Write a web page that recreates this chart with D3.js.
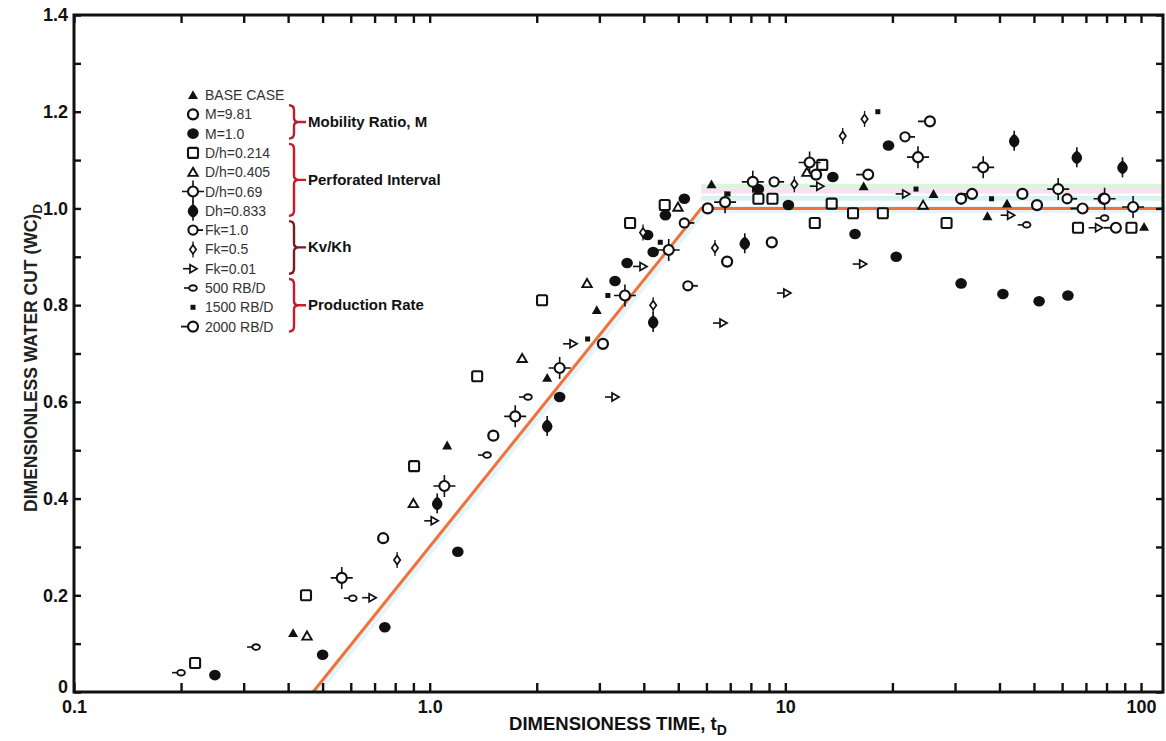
<!DOCTYPE html>
<html>
<head>
<meta charset="utf-8">
<script src="https://cdn.jsdelivr.net/npm/d3@7"></script>
<style>
body { margin: 0; background: #fff; }
svg { display: block; }
</style>
</head>
<body>
<svg id="view" width="1166" height="741"></svg>
<script>
// DATA, each point is [tD, (WC)D]
var BASE_CASE = [[0.413, 0.122], [1.12, 0.51], [2.14, 0.65], [2.95, 0.79], [6.2, 1.05],
    [16.6, 1.046], [26.1, 1.03], [37, 0.984], [42, 1.01], [102, 0.962]];
var M_981 = [[0.74, 0.318], [1.51, 0.53], [3.07, 0.72], [6.05, 1.0], [6.86, 0.89], [9.16, 0.93],
    [12.2, 1.07], [31.2, 1.02], [46.4, 1.03], [51, 1.007], [78.5, 1.02]];
var M_10 = [[0.249, 0.035], [0.5, 0.077], [0.748, 0.134], [1.2, 0.29], [2.32, 0.61], [3.32, 0.85],
    [3.59, 0.887], [4.1, 0.945], [4.25, 0.91], [4.6, 0.986], [5.2, 1.02], [8.4, 1.04], [10.2, 1.007],
    [13.6, 1.065], [15.7, 0.947], [19.5, 1.13], [20.5, 0.9], [31.2, 0.845], [40.9, 0.823],
    [51.7, 0.808], [62.3, 0.82]];
var DH_0214 = [[0.219, 0.06], [0.449, 0.2], [0.904, 0.467], [1.36, 0.653], [2.07, 0.81], [3.66, 0.97],
    [4.58, 1.007], [8.4, 1.02], [9.2, 1.02], [12.1, 0.97], [12.7, 1.09], [13.5, 1.01], [15.5, 0.99],
    [18.8, 0.99], [28.4, 0.97], [66.5, 0.96], [94, 0.96]];
var DH_0405 = [[0.452, 0.116], [0.9, 0.39], [1.82, 0.69], [2.77, 0.845], [4.99, 1.003], [11.5, 1.075],
    [24.4, 1.007]];
var DH_069 = [[0.566, 0.236], [1.1, 0.426], [1.74, 0.57], [2.32, 0.67], [3.54, 0.82], [4.7, 0.914],
    [6.77, 1.013], [8.1, 1.055], [11.7, 1.095], [23.6, 1.106], [36, 1.085], [58.5, 1.04], [79, 1.02],
    [95, 1.003]];
var DH_0833 = [[1.05, 0.39], [2.14, 0.55], [4.25, 0.765], [7.69, 0.928], [44, 1.14], [66, 1.106],
    [88.7, 1.085]];
var FK_10 = [[5.2, 0.97], [5.32, 0.84], [9.3, 1.055], [21.7, 1.148], [62, 1.02]];
var FK_05 = [[0.81, 0.273], [3.98, 0.95], [4.25, 0.8], [6.34, 0.918], [10.6, 1.05], [14.5, 1.15],
    [16.7, 1.185]];
var FK_001 = [[0.689, 0.195], [1.03, 0.354], [2.53, 0.72], [3.32, 0.61], [3.98, 0.88], [6.68, 0.763],
    [10.1, 0.825], [12.5, 1.046], [16.5, 0.885], [21.8, 1.03], [43, 0.986], [76, 0.96]];
var RB_500 = [[0.2, 0.04], [0.325, 0.093], [0.608, 0.194], [1.45, 0.49], [1.89, 0.61], [47.7, 0.966],
    [79, 0.98]];
var RB_1500 = [[2.78, 0.73], [3.17, 0.82], [4.45, 0.93], [6.9, 1.03], [18.2, 1.2], [23.3, 1.04],
    [38, 1.02]];
var RB_2000 = [[17.1, 1.07], [25.5, 1.18], [33.5, 1.03], [68.5, 1.0], [85, 0.96]];

var LEGEND_LABELS = ["BASE CASE", "M=9.81", "M=1.0", "D/h=0.214", "D/h=0.405", "D/h=0.69",
    "Dh=0.833", "Fk=1.0", "Fk=0.5", "Fk=0.01", "500 RB/D", "1500 RB/D", "2000 RB/D"];
var MARKERS = ["triFill", "circOpen", "circFill", "squareOpen", "triOpen", "crossCirc",
    "diamondLine", "cLine", "smallDiamondLine", "triRightLine", "eye", "smallSquare", "circLineLeft"];
var SERIES_DATA = [BASE_CASE, M_981, M_10, DH_0214, DH_0405, DH_069, DH_0833,
    FK_10, FK_05, FK_001, RB_500, RB_1500, RB_2000];

var GROUP_LABELS = ["Mobility Ratio, M", "Perforated Interval", "Kv/Kh", "Production Rate"];
var GROUP_ROWS = [[1, 2], [3, 6], [7, 9], [10, 12]];
var GROUP_COLORS = ["#b42230", "#d01826", "#7a1c22", "#c81c2c"];

// correlation line: rises from tD=0.47 to tD=5.8, then flat
var TREND = [[0.47, 0], [5.8, 1.0], [115, 1.0]];

var X_LABEL_VALUES = [0.1, 1, 10, 100];
var X_LABEL_TEXT = ["0.1", "1.0", "10", "100"];
var Y_LABEL_VALUES = [0, 0.2, 0.4, 0.6, 0.8, 1.0, 1.2, 1.4];
var Y_LABEL_TEXT = ["0", "0.2", "0.4", "0.6", "0.8", "1.0", "1.2", "1.4"];

// CONSTANTS
var INK = "#111";
var FONT = "'Liberation Sans', Arial, sans-serif";
var LEFT = 74, RIGHT = 1163, TOP = 15, BOTTOM = 692;


function drawMarker(g, type) {
    switch (type) {
    case "triFill":
        g.append("path").attr("d", "M0,-4.8L5,4L-5,4Z").attr("fill", INK);
        break;
    case "circOpen":
        g.append("circle").attr("r", 5)
            .attr("fill", "#fff").attr("stroke", INK).attr("stroke-width", 2.3);
        break;
    case "circFill":
        g.append("ellipse").attr("rx", 5.8).attr("ry", 5.3).attr("fill", INK);
        break;
    case "squareOpen":
        g.append("rect").attr("x", -5).attr("y", -5).attr("width", 10).attr("height", 10)
            .attr("rx", 1.5)
            .attr("fill", "#fff").attr("stroke", INK).attr("stroke-width", 2.1);
        break;
    case "triOpen":
        g.append("path").attr("d", "M0,-4.4L4.7,3.7L-4.7,3.7Z")
            .attr("fill", "#fff").attr("stroke", INK).attr("stroke-width", 1.9);
        break;
    case "crossCirc":
        g.append("path").attr("d", "M-11,0H11M0,-11V11")
            .attr("stroke", INK).attr("stroke-width", 1.6);
        g.append("circle").attr("r", 5)
            .attr("fill", "#fff").attr("stroke", INK).attr("stroke-width", 2.1);
        break;
    case "diamondLine":
        g.append("path").attr("d", "M0,-10V10")
            .attr("stroke", INK).attr("stroke-width", 1.6);
        g.append("path").attr("d", "M0,-7C4,-4 6,-1 5,2C4,5 2,6 0,7C-2,6 -4,5 -5,2C-6,-1 -4,-4 0,-7Z")
            .attr("fill", INK);
        break;
    case "cLine":
        g.append("path").attr("d", "M4,0H10")
            .attr("stroke", INK).attr("stroke-width", 1.8);
        g.append("circle").attr("r", 4.6)
            .attr("fill", "#fff").attr("stroke", INK).attr("stroke-width", 2.1);
        break;
    case "smallDiamondLine":
        g.append("path").attr("d", "M0,-8V8")
            .attr("stroke", INK).attr("stroke-width", 1.3);
        g.append("path").attr("d", "M0,-4.5L3.2,0L0,4.5L-3.2,0Z")
            .attr("fill", "#fff").attr("stroke", INK).attr("stroke-width", 1.7);
        break;
    case "triRightLine":
        g.append("path").attr("d", "M-10,0H-3")
            .attr("stroke", INK).attr("stroke-width", 1.6);
        g.append("path").attr("d", "M-3,-4L4,0L-3,4Z")
            .attr("fill", "#fff").attr("stroke", INK).attr("stroke-width", 1.7);
        break;
    case "eye":
        g.append("path").attr("d", "M-9,0H-3")
            .attr("stroke", INK).attr("stroke-width", 1.6);
        g.append("ellipse").attr("rx", 3.8).attr("ry", 2.8)
            .attr("fill", "#fff").attr("stroke", INK).attr("stroke-width", 1.9);
        break;
    case "smallSquare":
        g.append("rect").attr("x", -2.5).attr("y", -2.5).attr("width", 5).attr("height", 5)
            .attr("fill", INK);
        break;
    case "circLineLeft":
        g.append("path").attr("d", "M-12,0H-4")
            .attr("stroke", INK).attr("stroke-width", 1.8);
        g.append("circle").attr("r", 5)
            .attr("fill", "#fff").attr("stroke", INK).attr("stroke-width", 2.1);
        break;
    }
}

function bracePath(x0, y1, y2) {
    var ym = (y1 + y2) / 2;
    var xv = x0 + 5;
    return "M" + x0 + "," + y1 +
        "Q" + xv + "," + y1 + " " + xv + "," + (y1 + 5) +
        "L" + xv + "," + (ym - 4) +
        "Q" + xv + "," + ym + " " + (xv + 5) + "," + ym +
        "Q" + xv + "," + ym + " " + xv + "," + (ym + 4) +
        "L" + xv + "," + (y2 - 5) +
        "Q" + xv + "," + y2 + " " + x0 + "," + y2 +
        "M" + (xv + 5) + "," + ym + "H" + (xv + 12);
}


// main
function main() {
    var svg = d3.select("#view");

    var x = d3.scaleLog().domain([0.1, 115.3]).range([LEFT, RIGHT]);
    var y = d3.scaleLinear().domain([0, 1.4]).range([BOTTOM, TOP]);

    var xTicks = x.ticks().filter(function(d) { return d <= 100.001; });
    var yTicks = d3.range(0, 15).map(function(i) { return i / 10; });

    var xFmt = function(d) {
        var i = X_LABEL_VALUES.findIndex(function(v) { return Math.abs(v - d) < 1e-9; });
        return i >= 0 ? X_LABEL_TEXT[i] : "";
    };
    var yFmt = function(d) {
        var i = Y_LABEL_VALUES.findIndex(function(v) { return Math.abs(v - d) < 1e-9; });
        return i >= 0 ? Y_LABEL_TEXT[i] : "";
    };

    // faint ghost bands above the plateau
    var ghost = svg.append("g");
    var bands = [[1.046, "#dcf4dc"], [1.036, "#f8e0f0"], [1.021, "#d8f2f4"]];
    bands.forEach(function(b) {
        ghost.append("line")
            .attr("x1", x(5.8)).attr("x2", RIGHT)
            .attr("y1", y(b[0])).attr("y2", y(b[0]))
            .attr("stroke", b[1]).attr("stroke-width", 5);
    });

    // trend line
    var line = d3.line()
        .x(function(d) { return x(d[0]); })
        .y(function(d) { return y(d[1]); });
    svg.append("path")
        .datum(TREND)
        .attr("d", line)
        .attr("transform", "translate(3,1)")
        .attr("fill", "none")
        .attr("stroke", "#e6f5fa")
        .attr("stroke-width", 7);
    svg.append("path")
        .datum(TREND)
        .attr("d", line)
        .attr("fill", "none")
        .attr("stroke", "#f2703a")
        .attr("stroke-width", 3);

    // points
    var pts = svg.append("g");
    SERIES_DATA.forEach(function(data, si) {
        data.forEach(function(p) {
            var g = pts.append("g")
                .attr("transform", "translate(" + x(p[0]) + "," + y(p[1]) + ")");
            drawMarker(g, MARKERS[si]);
        });
    });

    // axes, ticks point inward
    var axes = svg.append("g")
        .attr("font-family", FONT);
    axes.append("g")
        .attr("transform", "translate(0," + BOTTOM + ")")
        .call(d3.axisBottom(x).tickValues(xTicks).tickFormat(xFmt)
            .tickSizeInner(-9).tickSizeOuter(0).tickPadding(8));
    axes.append("g")
        .attr("transform", "translate(0," + TOP + ")")
        .call(d3.axisTop(x).tickValues(xTicks).tickFormat("")
            .tickSizeInner(-8).tickSizeOuter(0));
    var yAxis = axes.append("g")
        .attr("transform", "translate(" + LEFT + ",0)")
        .call(d3.axisLeft(y).tickValues(yTicks).tickFormat(yFmt)
            .tickSizeInner(-7).tickSizeOuter(0).tickPadding(6));
    axes.append("g")
        .attr("transform", "translate(" + RIGHT + ",0)")
        .call(d3.axisRight(y).tickValues(yTicks).tickFormat("")
            .tickSizeInner(-7).tickSizeOuter(0));
    axes.selectAll(".domain").remove();
    axes.selectAll(".tick line")
        .attr("stroke", INK)
        .attr("stroke-width", 2.4);
    axes.selectAll(".tick text")
        .attr("fill", INK)
        .attr("font-size", 18)
        .attr("font-weight", "bold");
    // the zero label sits a little above the corner
    yAxis.selectAll(".tick text")
        .filter(function(d) { return d === 0; })
        .attr("dy", "0.05em");

    svg.append("rect")
        .attr("x", LEFT).attr("y", TOP)
        .attr("width", RIGHT - LEFT).attr("height", BOTTOM - TOP)
        .attr("fill", "none")
        .attr("stroke", INK)
        .attr("stroke-width", 3);

    // axis titles
    var xt = svg.append("text")
        .attr("x", 618).attr("y", 730)
        .attr("text-anchor", "middle")
        .attr("font-family", FONT).attr("font-size", 18.5).attr("font-weight", "bold")
        .attr("fill", INK)
        .text("DIMENSIONESS TIME, t");
    xt.append("tspan").attr("dy", 5).attr("font-size", 14).text("D");

    var yt = svg.append("text")
        .attr("transform", "translate(37,358) rotate(-90)")
        .attr("text-anchor", "middle")
        .attr("font-family", FONT).attr("font-size", 17.5).attr("font-weight", "bold")
        .attr("fill", "#222")
        .text("DIMENSIONLESS WATER CUT (WC)");
    yt.append("tspan").attr("dy", 5).attr("font-size", 13.5).text("D");

    // legend
    var legend = svg.append("g")
        .attr("font-family", FONT);
    var rowY = function(i) { return 95 + i * 19.3; };
    LEGEND_LABELS.forEach(function(label, i) {
        var g = legend.append("g")
            .attr("transform", "translate(193," + rowY(i) + ")");
        drawMarker(g, MARKERS[i]);
        legend.append("text")
            .attr("x", 205).attr("y", rowY(i) + 5)
            .attr("font-size", 14)
            .attr("fill", "#333")
            .text(label);
    });
    GROUP_LABELS.forEach(function(label, i) {
        var y1 = rowY(GROUP_ROWS[i][0]) - 9;
        var y2 = rowY(GROUP_ROWS[i][1]) + 5;
        legend.append("path")
            .attr("d", bracePath(289, y1, y2))
            .attr("fill", "none")
            .attr("stroke", GROUP_COLORS[i])
            .attr("stroke-width", 2.4);
        legend.append("text")
            .attr("x", 308).attr("y", (y1 + y2) / 2 + 5)
            .attr("font-size", 15)
            .attr("font-weight", "bold")
            .attr("fill", INK)
            .text(label);
    });
}

main();
</script>
</body>
</html>
